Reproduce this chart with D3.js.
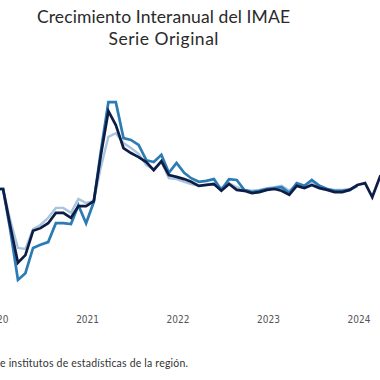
<!DOCTYPE html>
<html>
<head>
<meta charset="utf-8">
<script src="https://cdn.jsdelivr.net/npm/d3@7"></script>
<style>
  html, body { margin: 0; padding: 0; background: #fff; }
  svg { display: block; }
</style>
</head>
<body>
<svg id="chart" width="380" height="380"></svg>
<script>
// Monthly series start: January 2020
const startYear = 2020;
const startMonth = 0;

// Year tick labels
const yearTicks = ["2020", "2021", "2022", "2023", "2024"];

// Series values (% y/y)
const seriesDark = [3.0, 3.0, -5.2, -13.4, -11.7, -6.3, -5.7, -4.6, -2.3, -2.3, -3.4, -0.8,
  -0.8, 0.3, 10.3, 20.3, 17.2, 12.1, 11.0, 10.1, 9.0, 7.2, 9.2, 6.1,
  5.7, 5.2, 4.6, 3.7, 3.9, 4.1, 2.6, 4.1, 2.8, 2.6, 2.1, 2.3,
  2.8, 3.0, 2.6, 1.7, 3.7, 3.2, 3.9, 3.2, 2.8, 2.3, 2.3, 2.8,
  3.9, 4.3, 1.2, 5.7, 4.6];

const seriesMid = [3.0, 3.0, -6.1, -17.2, -15.7, -10.1, -9.4, -8.8, -4.6, -4.6, -4.8, -0.6,
  -4.6, 0.1, 11.2, 22.3, 22.3, 14.3, 13.9, 12.8, 9.4, 9.0, 10.6, 6.6,
  8.8, 6.6, 5.4, 4.6, 4.8, 5.2, 2.8, 5.2, 5.0, 2.8, 2.3, 2.6,
  3.0, 3.2, 3.4, 2.1, 4.3, 3.7, 5.0, 3.7, 3.0, 2.6, 2.6, 2.8,
  3.7];

const seriesPale = [3.0, 3.0, -3.9, -10.1, -10.3, -5.9, -5.0, -3.4, -1.2, -1.2, -2.3, 0.8,
  -0.1, 0.3, 7.7, 14.6, 15.4, 13.2, 12.1, 10.8, 8.3, 7.4, 9.0, 5.4,
  5.2, 4.6, 4.1, 3.7, 3.9, 4.3, 3.2, 4.3, 3.4, 2.8, 2.6, 2.8,
  3.2, 3.4, 3.7, 2.6, 3.9, 3.7, 4.6, 3.7, 3.0, 2.8, 2.8, 3.0,
  3.7];

const titleLines = ["Crecimiento Interanual del IMAE", "Serie Original"];
const footnote = "e institutos de estadísticas de la región.";

const svg = d3.select("#chart");

const x = d3.scaleTime()
  .domain([new Date(2020, 0, 1), new Date(2024, 0, 1)])
  .range([-4.6, 357.4]);

const y = d3.scaleLinear()
  .domain([-20, 25])
  .range([292.5, 90]);

function toPoints(arr) {
  return arr.map((v, i) => ({ date: new Date(startYear, startMonth + i, 1), value: v }));
}

const line = d3.line()
  .x(d => x(d.date))
  .y(d => y(d.value));

const series = [
  { data: seriesPale, color: "#a9c4df", width: 2.4 },
  { data: seriesMid, color: "#2b7bb5", width: 2.7 },
  { data: seriesDark, color: "#0e1d45", width: 2.7 }
];

svg.append("g")
  .selectAll("path")
  .data(series)
  .join("path")
  .attr("fill", "none")
  .attr("stroke", d => d.color)
  .attr("stroke-width", d => d.width)
  .attr("stroke-linejoin", "miter")
  .attr("d", d => line(toPoints(d.data)));

// X axis (labels only)
const xAxis = d3.axisBottom(x)
  .tickValues(yearTicks.map(t => new Date(+t, 0, 1)))
  .tickFormat((d, i) => yearTicks[i])
  .tickSize(0)
  .tickPadding(0);

const gx = svg.append("g")
  .attr("transform", "translate(1,316)")
  .call(xAxis);
gx.select(".domain").remove();
gx.selectAll("text")
  .attr("font-family", "'Liberation Sans Narrow', 'DejaVu Sans Condensed', sans-serif")
  .attr("font-size", 10)
  .attr("fill", "#555");

// Title
const titleWidths = [253, 110];
svg.append("g")
  .selectAll("text")
  .data(titleLines)
  .join("text")
  .attr("x", 163.5)
  .attr("y", (d, i) => 23 + i * 22)
  .attr("text-anchor", "middle")
  .attr("font-family", "Lato, 'Noto Sans', sans-serif")
  .attr("font-size", 17.5)
  .attr("textLength", (d, i) => titleWidths[i])
  .attr("lengthAdjust", "spacing")
  .attr("fill", "#2a2a2a")
  .text(d => d);

// Footnote
svg.append("text")
  .attr("x", 0)
  .attr("y", 367)
  .attr("font-family", "Lato, 'Noto Sans', sans-serif")
  .attr("font-size", 10.5)
  .attr("textLength", 188)
  .attr("lengthAdjust", "spacing")
  .attr("fill", "#333")
  .text(footnote);
</script>
</body>
</html>
